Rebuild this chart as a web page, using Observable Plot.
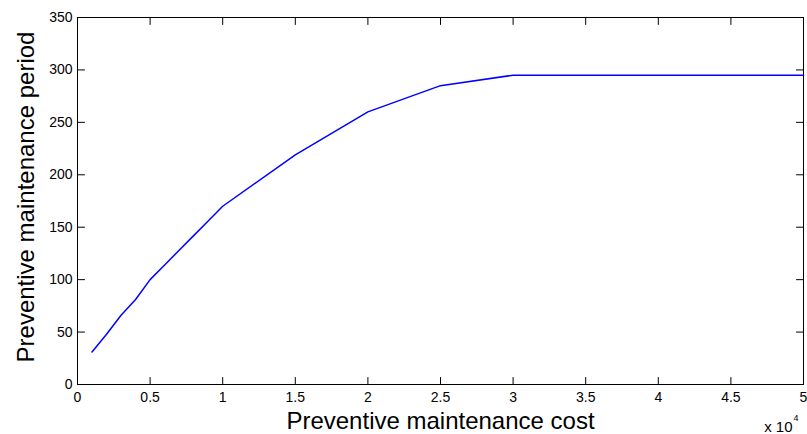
<!DOCTYPE html>
<html>
<head>
<meta charset="utf-8">
<script src="https://cdn.jsdelivr.net/npm/d3@7"></script>
<script src="https://cdn.jsdelivr.net/npm/@observablehq/plot@0.6"></script>
<style>
  html, body { margin: 0; padding: 0; background: #fff; }
  #chart svg { display: block; }
</style>
</head>
<body>
<div id="chart"></div>
<script>
// Data (cost in currency units, period in days)
const costs   = [1000, 2000, 3000, 4000, 5000, 6000, 7000, 8000, 9000, 10000,
                 15000, 20000, 25000, 30000, 35000, 40000, 45000, 50000];
const periods = [31, 48, 66, 81, 100, 114, 128, 142, 156, 170,
                 219, 260, 285, 295, 295, 295, 295, 295];
const xTicks = [0, 5000, 10000, 15000, 20000, 25000, 30000, 35000, 40000, 45000, 50000];
const yTicks = [0, 50, 100, 150, 200, 250, 300, 350];
const xLabel = "Preventive maintenance cost";
const yLabel = "Preventive maintenance period";
const xMultiplier = "x 10";
const xExponent = "4";

const data = costs.map((c, i) => ({cost: c, period: periods[i]}));

const W = 807, H = 434;
const mL = 77, mR = 4, mT = 17, mB = 50;
const tickLen = 7;
const font = "'Liberation Sans', Arial, Helvetica, sans-serif";
const xMin = 0, xMax = 50000, yMin = 0, yMax = 350;

// a plain line segment shape for inward tick marks
const tickShape = {draw(context, l) { context.moveTo(0, 0); context.lineTo(0, -l); }};
const tickOpts = {stroke: "#000", strokeWidth: 1, length: tickLen, anchor: "start", shape: tickShape};

const chart = Plot.plot({
  width: W,
  height: H,
  marginLeft: mL,
  marginRight: mR,
  marginTop: mT,
  marginBottom: mB,
  style: {fontFamily: font, background: "#fff", color: "#000"},
  x: {domain: [xMin, xMax]},
  y: {domain: [yMin, yMax]},
  marks: [
    // inward tick marks on all four sides
    Plot.vector(xTicks, {...tickOpts, x: d => d, y: () => yMin, rotate: 0}),
    Plot.vector(xTicks, {...tickOpts, x: d => d, y: () => yMax, rotate: 180}),
    Plot.vector(yTicks, {...tickOpts, x: () => xMin, y: d => d, rotate: 90}),
    Plot.vector(yTicks, {...tickOpts, x: () => xMax, y: d => d, rotate: -90}),
    Plot.frame({stroke: "#000", strokeWidth: 1}),
    Plot.axisX(xTicks, {anchor: "bottom", tickSize: 0, tickPadding: 8, tickFormat: d => String(d / 1e4), fontSize: 14, label: null}),
    Plot.axisY(yTicks, {anchor: "left", tickSize: 0, tickPadding: 5, tickFormat: d => String(d), fontSize: 14, label: null}),
    Plot.line(data, {x: "cost", y: "period", stroke: "#0000ff", strokeWidth: 1.5}),
    Plot.text([xLabel], {text: d => d, frameAnchor: "bottom", lineAnchor: "bottom", dy: 44, fontSize: 24, fill: "#000"}),
    Plot.text([yLabel], {text: d => d, frameAnchor: "left", textAnchor: "middle", lineAnchor: "bottom", rotate: -90, dx: -44, dy: -4, fontSize: 24, fill: "#000"}),
    Plot.text([xMultiplier], {text: d => d, frameAnchor: "bottom-right", textAnchor: "end", lineAnchor: "bottom", dx: -11, dy: 47, fontSize: 15, fill: "#000"}),
    Plot.text([xExponent], {text: d => d, frameAnchor: "bottom-right", textAnchor: "start", lineAnchor: "bottom", dx: -10, dy: 36, fontSize: 9, fill: "#000"})
  ]
});

document.getElementById("chart").appendChild(chart);
</script>
</body>
</html>
